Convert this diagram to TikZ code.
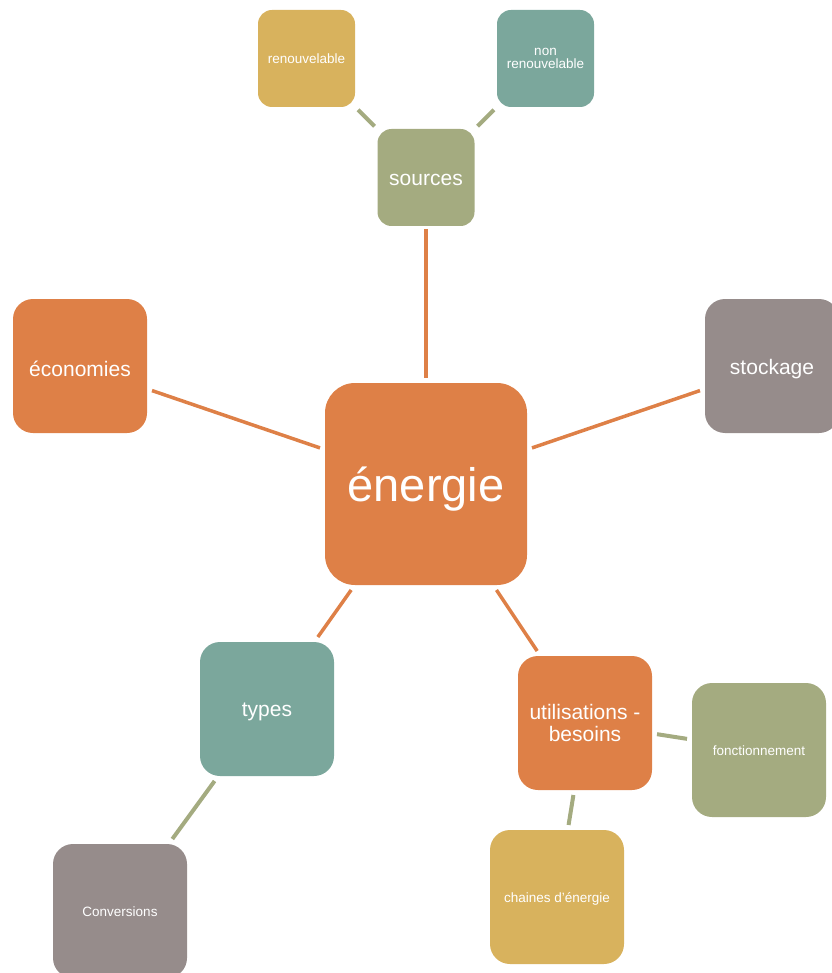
\documentclass[tikz,border=0pt]{standalone}
\usepackage{fontspec}
\setmainfont{Liberation Sans}
\definecolor{cOrange}{HTML}{DE8047}
\definecolor{cSage}{HTML}{A4AB80}
\definecolor{cMustard}{HTML}{D8B25D}
\definecolor{cTeal}{HTML}{7BA79C}
\definecolor{cTaupe}{HTML}{968C8B}
% lower a label inside its box without changing the box size
\newcommand{\lowered}[2]{\raisebox{-#1}[\height][\depth]{#2}}
\begin{document}
\begin{tikzpicture}[x=1pt,y=-1pt,
  box/.style={rectangle, text=white, align=center, inner sep=0pt, outer sep=5pt},
  hub/.style={box, minimum width=202pt, minimum height=202pt, rounded corners=30pt,
              font=\fontsize{47}{50}\selectfont},
  mid/.style={box, minimum width=134pt, minimum height=134pt, rounded corners=20pt,
              font=\fontsize{21}{22}\selectfont},
  leaf/.style={box, minimum width=134pt, minimum height=134pt, rounded corners=20pt,
               font=\fontsize{13.5}{13}\selectfont},
  small/.style={box, minimum width=97pt, minimum height=97pt, rounded corners=14pt,
                outer sep=3pt, font=\fontsize{13.5}{13}\selectfont},
  smallmid/.style={box, minimum width=97pt, minimum height=97pt, rounded corners=14pt,
                outer sep=3pt, font=\fontsize{21}{22}\selectfont},
  mainlink/.style={draw=cOrange, line width=3.5pt},
  sublink/.style={draw=cSage, line width=4pt}]
\useasboundingbox (0,0) rectangle (831,973);

% central topic
\node[hub, fill=cOrange] (energie) at (426,484) {\lowered{5pt}{énergie}};

% first ring
\node[smallmid, fill=cSage] (sources) at (426,177.5) {\lowered{2pt}{sources}};
\node[mid, fill=cOrange] (economies) at (80,366) {\lowered{3pt}{économies}};
\node[mid, fill=cTaupe] (stockage) at (772,366) {\lowered{3pt}{stockage}};
\node[mid, fill=cTeal] (types) at (267,709) {\lowered{3pt}{types}};
\node[mid, fill=cOrange] (utilisations) at (585,723) {utilisations -\\besoins};

% second ring
\node[small, fill=cMustard] (renouv) at (306.5,58.5) {renouvelable};
\node[small, fill=cTeal] (nonrenouv) at (545.5,58.5) {non\\renouvelable};
\node[leaf, fill=cSage] (fonction) at (759,750) {\lowered{1pt}{fonctionnement}};
\node[leaf, fill=cMustard] (chaines) at (557,897) {\lowered{2pt}{chaines d'énergie}};
\node[leaf, fill=cTaupe] (conversions) at (120,911) {\lowered{1pt}{Conversions}};

% links to the central topic
\draw[mainlink] (sources) -- (energie);
\draw[mainlink] (economies) -- (energie);
\draw[mainlink] (stockage) -- (energie);
\draw[mainlink] (types) -- (energie);
\draw[mainlink] (utilisations) -- (energie);

% links to the second ring
\draw[sublink] (renouv) -- (sources);
\draw[sublink] (nonrenouv) -- (sources);
\draw[sublink] (utilisations) -- (fonction);
\draw[sublink] (utilisations) -- (chaines);
\draw[sublink] (types) -- (conversions);
\end{tikzpicture}
\end{document}
